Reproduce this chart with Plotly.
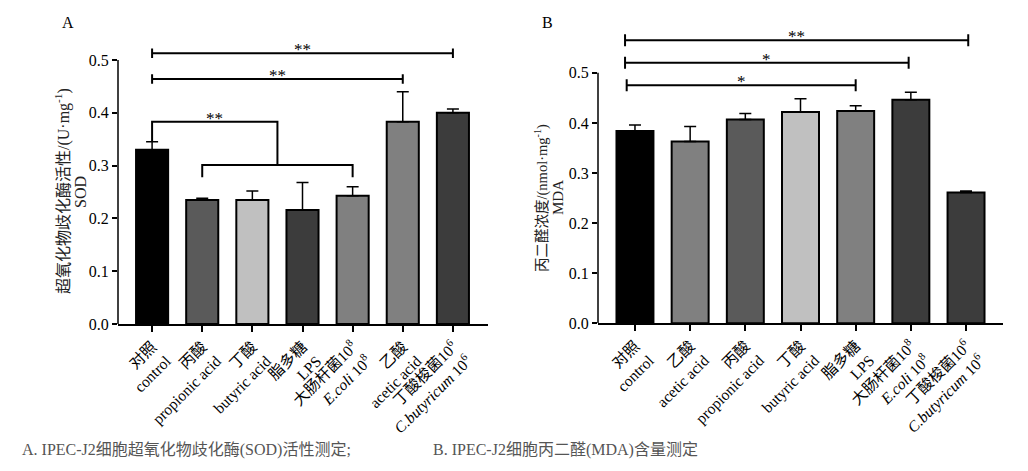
import plotly.graph_objects as go

# 图A：SOD活性
labels_a = ["对照<br>control", "丙酸<br>propionic acid", "丁酸<br>butyric acid", "脂多糖<br>LPS",
            "大肠杆菌10<sup>8</sup><br><i>E.coli</i> 10<sup>8</sup>", "乙酸<br>acetic acid",
            "丁酸梭菌10<sup>6</sup><br><i>C.butyricum</i> 10<sup>6</sup>"]
sod = [0.330, 0.235, 0.235, 0.216, 0.243, 0.383, 0.400]
sod_err = [0.015, 0.003, 0.017, 0.052, 0.017, 0.057, 0.007]
colors_a = ["#000000", "#5a5a5a", "#c0c0c0", "#3c3c3c", "#808080", "#808080", "#3c3c3c"]

# 图B：MDA含量
labels_b = ["对照<br>control", "乙酸<br>acetic acid", "丙酸<br>propionic acid", "丁酸<br>butyric acid",
            "脂多糖<br>LPS", "大肠杆菌10<sup>8</sup><br><i>E.coli</i> 10<sup>8</sup>",
            "丁酸梭菌10<sup>6</sup><br><i>C.butyricum</i> 10<sup>6</sup>"]
mda = [0.384, 0.363, 0.407, 0.422, 0.424, 0.446, 0.261]
mda_err = [0.012, 0.030, 0.012, 0.026, 0.010, 0.015, 0.003]
colors_b = ["#000000", "#808080", "#5a5a5a", "#c0c0c0", "#808080", "#3c3c3c", "#3c3c3c"]

y_ticks = [0.0, 0.1, 0.2, 0.3, 0.4, 0.5]

# 显著性标记 (起点, 终点, 高度, 星号)
sig_a = [(0, 6, 0.513, "**"), (0, 5, 0.464, "**")]
sig_b = [(-0.18, 6.04, 0.565, "**"), (-0.18, 4.96, 0.520, "*"), (-0.15, 4.0, 0.475, "*")]

FONT = "Liberation Serif, Noto Sans CJK SC"
W, H, OFF = 1012, 455, 8  # 页面自带8px边距


def px_x(sx):
    return (sx - OFF) / W


def px_y(sy):
    return 1 - (sy - OFF) / H


n = len(sod)
pos = list(range(n))

fig = go.Figure()

fig.add_trace(go.Bar(
    x=pos, y=sod, width=0.64, xaxis="x", yaxis="y",
    marker=dict(color=colors_a, line=dict(color="black", width=2)),
    error_y=dict(type="data", array=sod_err, arrayminus=[0] * n, symmetric=False,
                 color="black", thickness=1.5, width=6),
    showlegend=False
))
fig.add_trace(go.Bar(
    x=pos, y=mda, width=0.67, xaxis="x2", yaxis="y2",
    marker=dict(color=colors_b, line=dict(color="black", width=2)),
    error_y=dict(type="data", array=mda_err, arrayminus=[0] * n, symmetric=False,
                 color="black", thickness=1.5, width=6),
    showlegend=False
))

xcommon = dict(tickmode="array", tickvals=pos, tickangle=-45, showline=True, linecolor="black",
               linewidth=1.5, ticks="outside", ticklen=6, tickwidth=1.5, tickcolor="black",
               showgrid=False, zeroline=False, tickfont=dict(size=15.5, color="black"),
               automargin=False)
ycommon = dict(tickmode="array", tickvals=y_ticks, tickformat=".1f", showline=False,
               ticks="outside", ticklen=5, tickwidth=1.5, tickcolor="black", showgrid=False,
               zeroline=False, tickfont=dict(size=16, color="black"), automargin=False)

fig.update_layout(
    width=W, height=H,
    margin=dict(l=0, r=0, t=0, b=0, autoexpand=False),
    plot_bgcolor="white", paper_bgcolor="white",
    font=dict(family=FONT, color="black"),
    xaxis=dict(xcommon, domain=[px_x(118), px_x(488)], range=[-0.68, 6.7], ticktext=labels_a,
               anchor="y"),
    yaxis=dict(ycommon, domain=[px_y(324), px_y(324 - 0.55 * 528)], range=[0, 0.55], anchor="x"),
    xaxis2=dict(xcommon, domain=[px_x(598), px_x(1003)], range=[-0.67, 6.67], ticktext=labels_b,
                anchor="y2"),
    yaxis2=dict(ycommon, domain=[px_y(323.3), px_y(323.3 - 0.6 * 501)], range=[0, 0.6],
                anchor="x2"),
)

line_style = dict(color="black", width=2)

# y轴线只画到0.5
for xr, yr in [("x domain", "y"), ("x2 domain", "y2")]:
    fig.add_shape(type="line", xref=xr, yref=yr, x0=0, x1=0, y0=0, y1=0.5,
                  line=dict(color="black", width=1.5))

# 横向括号
for sigs, xr, yr, cap in [(sig_a, "x", "y", 0.009), (sig_b, "x2", "y2", 0.012)]:
    for x0, x1, h, star in sigs:
        fig.add_shape(type="line", xref=xr, yref=yr, x0=x0, x1=x1, y0=h, y1=h, line=line_style)
        for xe in (x0, x1):
            fig.add_shape(type="line", xref=xr, yref=yr, x0=xe, x1=xe, y0=h - cap, y1=h + cap,
                          line=line_style)
        fig.add_annotation(xref=xr, yref=yr, x=(x0 + x1) / 2, y=h, text=star, showarrow=False,
                           yanchor="bottom", yshift=-8, font=dict(size=17, color="black"))

# 图A中对照与各酸组的括号
fig.add_shape(type="path", xref="x", yref="y", path="M0,0.345 V0.383 H2.5 V0.301",
              line=line_style)
fig.add_shape(type="path", xref="x", yref="y", path="M1,0.278 V0.301 H4 V0.278",
              line=line_style)
fig.add_annotation(xref="x", yref="y", x=1.25, y=0.383, text="**", showarrow=False,
                   yanchor="bottom", yshift=-8, font=dict(size=17, color="black"))


def paper_text(sx, sy, txt, sz, color="black", angle=0, xanchor="center"):
    fig.add_annotation(xref="paper", yref="paper", x=px_x(sx), y=px_y(sy), text=txt,
                       textangle=angle, showarrow=False, xanchor=xanchor, yanchor="middle",
                       font=dict(size=sz, color=color))


# y轴标题（每行单独放置）
paper_text(62, 191, "超氧化物歧化酶活性/(U·mg<sup>-1</sup>)", 16, "#222", -90)
paper_text(80, 192, "SOD", 16, "#222", -90)
paper_text(541, 198, "丙二醛浓度/(nmol·mg<sup>-1</sup>)", 14.5, "#222", -90)
paper_text(558, 198, "MDA", 15, "#222", -90)

# 面板标签
paper_text(68, 23, "A", 16)
paper_text(547, 22, "B", 16)

# 图注
paper_text(20, 450, "A. IPEC-J2细胞超氧化物歧化酶(SOD)活性测定;", 16, "#555", xanchor="left")
paper_text(431, 450, "B. IPEC-J2细胞丙二醛(MDA)含量测定", 16, "#555", xanchor="left")

fig.write_html("out.html")
